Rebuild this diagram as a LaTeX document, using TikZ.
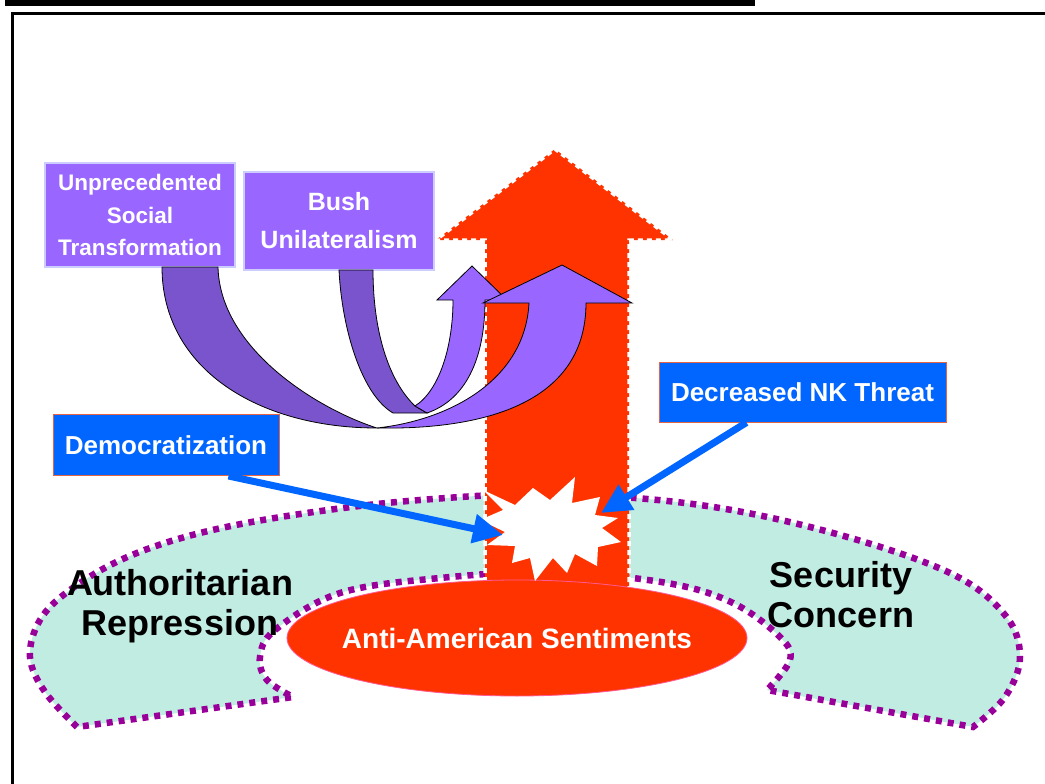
\documentclass[tikz,border=0pt]{standalone}
\usepackage{fontspec}
\setmainfont{Liberation Sans}
\usetikzlibrary{shapes.geometric,arrows.meta}

\definecolor{hotred}{HTML}{FF3300}
\definecolor{mint}{RGB}{192,236,226}
\definecolor{plum}{HTML}{990099}
\definecolor{violet}{HTML}{9966FF}
\definecolor{deepviolet}{RGB}{122,84,204}
\definecolor{lavender}{HTML}{CCCCFF}
\definecolor{brightblue}{HTML}{0066FF}
\definecolor{salmon}{RGB}{230,100,70}
\definecolor{pinkedge}{RGB}{255,90,150}

\tikzset{
  region/.style={fill=mint, draw=plum, line width=6.5pt, dash pattern=on 6pt off 6pt},
  bigarrow/.style={fill=hotred, draw=white, line width=3.5pt, dash pattern=on 5pt off 4pt},
  purplebox/.style={fill=violet, draw=lavender, line width=1.2pt, text=white,
    font=\bfseries, align=center, inner sep=0pt},
  bluebox/.style={fill=brightblue, draw=salmon, line width=1pt, text=white,
    font=\bfseries\fontsize{26}{30}\selectfont, inner sep=0pt},
  ribbonback/.style={fill=deepviolet, draw=black, line width=0.8pt},
  ribbonfront/.style={fill=violet, draw=black, line width=0.8pt, line join=miter},
  bluearrow/.style={draw=brightblue, line width=7pt, -{Triangle[length=30pt,width=28pt]}},
  bigtext/.style={font=\bfseries\fontsize{36}{40}\selectfont, align=center, inner sep=0pt}
}

\begin{document}
\begin{tikzpicture}[x=1pt,y=-1pt]
\useasboundingbox (0,0) rectangle (1045,784);

% page frame and title bar
\fill[black] (5,0) rectangle (755,6);
\draw[line width=3pt] (12,784) -- (12,14) -- (1045,14);

% horseshoe region
\draw[region] plot[smooth, tension=0.6] coordinates {(77,727) (45,692) (30,657) (40,620) (70,590) (125,558) (200,533) (300,514) (420,500) (555,494) (700,505) (833,533) (950,573) (1005,615) (1020,657) (1005,697) (973,727)}
  -- (767,690)
  -- plot[smooth, tension=0.6] coordinates {(767,690) (790,660) (780,637) (733,603) (667,583) (555,572) (440,578) (340,593) (275,630) (260,657) (267,680) (293,697)}
  -- cycle;

% big red arrow
\draw[bigarrow] (485,600) -- (485,240) -- (436,240) -- (555,149) -- (673,240) -- (629,240) -- (629,600);

% central ellipse
\fill[hotred, draw=pinkedge, line width=0.8pt] (517,638) ellipse [x radius=230pt, y radius=58pt];
\node[text=white, font=\bfseries\fontsize{28}{32}\selectfont, inner sep=0pt] (anti) at (517,638)
  {Anti-American Sentiments};

% starburst
\fill[white] (483,490) -- (515,505) -- (533,488) -- (550,500) -- (575,477) -- (572,503) -- (600,497)
  -- (595,515) -- (618,518) -- (602,528) -- (621,542) -- (598,547) -- (597,566) -- (575,554)
  -- (567,573) -- (553,558) -- (535,581) -- (530,558) -- (512,563) -- (515,546) -- (487,545)
  -- (505,532) -- (480,520) -- (503,510) -- cycle;
\coordinate (burstL) at (503,535);
\coordinate (burstR) at (601,513);

% region labels
\node[bigtext] (auth) at (180,606) {Authoritarian\\Repression};
\node[bigtext] (sec) at (841,595) {Security\\Concern};

% source boxes
\node[purplebox, minimum width=190pt, minimum height=104pt, font=\bfseries\fontsize{22.5}{32.5}\selectfont]
  (ust) at (140,215) {Unprecedented\\Social\\Transformation};
\node[purplebox, minimum width=190pt, minimum height=98pt, font=\bfseries\fontsize{25}{38}\selectfont]
  (bush) at (339,221) {Bush\\Unilateralism};
\node[bluebox, minimum width=226pt, minimum height=61pt] (demo) at (166,445) {Democratization};
\node[bluebox, minimum width=287pt, minimum height=60pt] (nk) at (802.5,392) {Decreased NK Threat};

% blue arrows into the burst
\draw[bluearrow] ([xshift=-51pt]demo.south east) -- (burstL);
\draw[bluearrow] ([xshift=88pt]nk.south west) -- (burstR);

% ribbon arrow from Bush Unilateralism
\draw[ribbonback] (339,270) .. controls (342,330) and (362,395) .. (393,413) -- (427,413) -- (415,406)
  .. controls (388,380) and (373,330) .. (373,270) -- cycle;
\draw[ribbonfront] (415,406) .. controls (440,390) and (453,345) .. (453,300) -- (437,300) -- (472,266)
  -- (507,300) -- (485,300) .. controls (485,360) and (465,400) .. (427,413) -- cycle;

% ribbon arrow from Unprecedented Social Transformation
\draw[ribbonback] (162,267) .. controls (162,370) and (260,428) .. (377,428)
  .. controls (320,410) and (220,350) .. (218,267) -- cycle;
\draw[ribbonfront] (377,428) .. controls (490,430) and (586,400) .. (586,303) -- (632,303) -- (562,265)
  -- (483,303) -- (529,303) .. controls (525,380) and (450,420) .. (377,428) -- cycle;
\end{tikzpicture}
\end{document}
